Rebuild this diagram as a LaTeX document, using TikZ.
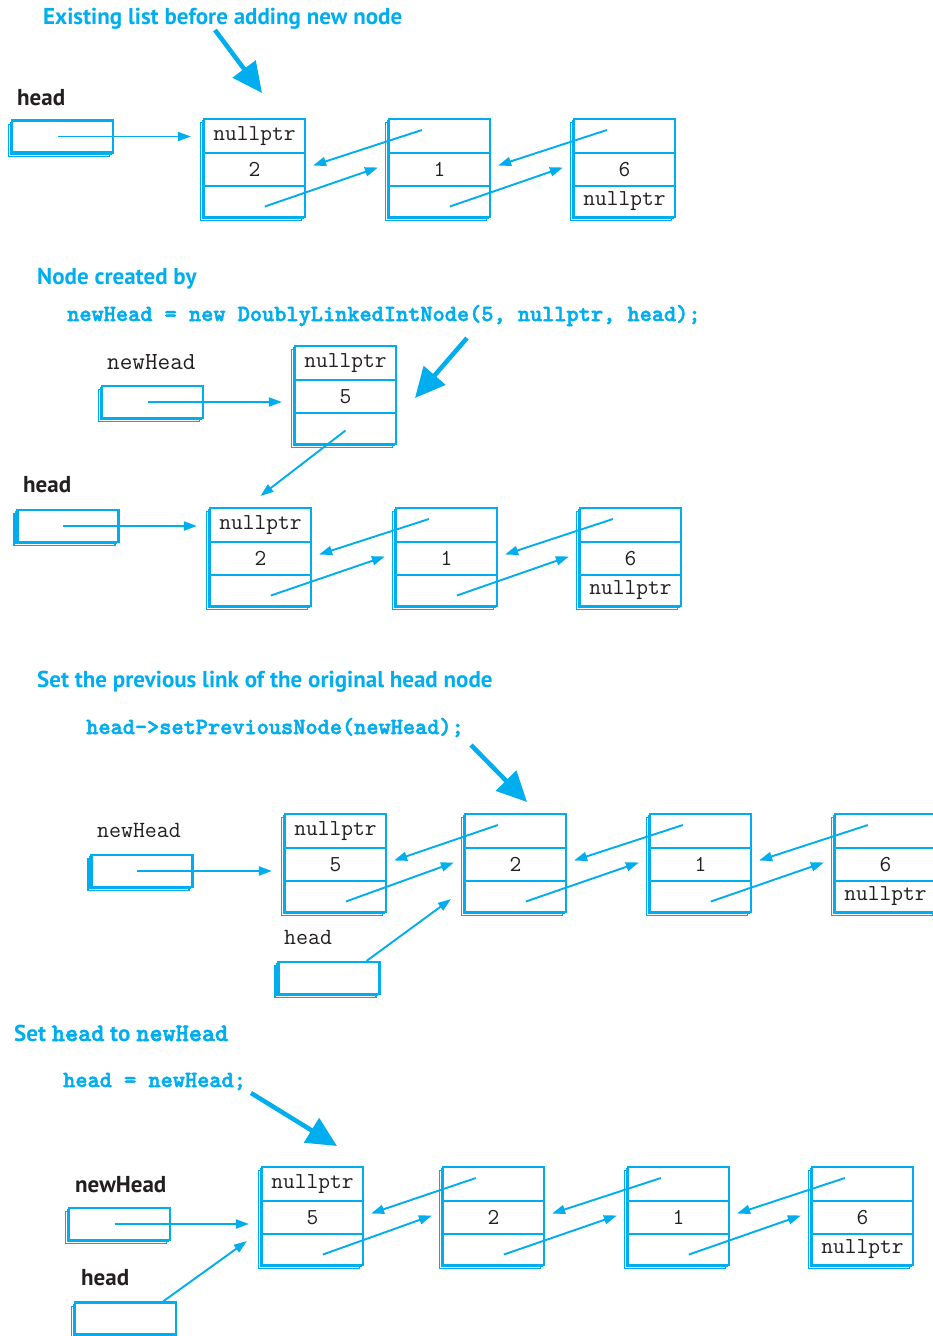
\documentclass[tikz,border=0pt]{standalone}
\usepackage{fontspec}
\usetikzlibrary{arrows.meta,calc,shadows}
\newfontfamily\hdfont{PT Sans}
\newfontfamily\codefont{lmmonolt10-bold.otf}[FakeBold=2.2]
\definecolor{cy}{RGB}{0,174,239}
\definecolor{ink}{RGB}{35,31,32}
\tikzset{
  stk/.style={copy shadow={shadow xshift=-3.6pt, shadow yshift=-3.6pt, draw=cy, fill=white, line width=1.2pt},
              copy shadow={shadow xshift=-1.8pt, shadow yshift=-1.8pt, draw=cy, fill=white, line width=1.2pt}},
  cell/.style={draw=cy, line width=2.2pt, minimum width=101pt, inner sep=0pt, text=ink,
               font=\ttfamily\fontsize{22.8}{22}\selectfont},
  frame/.style={stk, draw=cy, fill=white, line width=2.2pt, minimum width=101pt, minimum height=98pt, inner sep=0pt},
  ptrbox/.style={stk, draw=cy, fill=white, line width=2.2pt, minimum width=101pt, minimum height=32pt, inner sep=0pt},
  ptr/.style={draw=cy, line width=1.9pt, -{Triangle[length=13pt,width=9pt]}},
  bigarrow/.style={draw=cy, fill=cy, line width=4.5pt, -{Triangle[length=30pt,width=28pt]}},
  title/.style={anchor=base west, inner sep=0pt, text=cy, font=\hdfont\bfseries\fontsize{23}{23}\selectfont},
  code/.style={anchor=base west, inner sep=0pt, text=cy, font=\codefont\fontsize{23.2}{23}\selectfont},
  lbl/.style={anchor=base west, inner sep=0pt, text=ink, font=\hdfont\bfseries\fontsize{23}{23}\selectfont},
  mlbl/.style={anchor=base west, inner sep=0pt, text=ink, font=\ttfamily\fontsize{23.2}{23}\selectfont},
}
\newcommand\listnode[6]{%
  \node[frame] (#1) at (#2+50.5,#3+49) {};
  \node[cell, minimum height=34pt] (#1a) at (#2+50.5,#3+17) {#4};
  \node[cell, minimum height=33pt] (#1b) at (#2+50.5,#3+50.5) {#5};
  \node[cell, minimum height=31pt] (#1c) at (#2+50.5,#3+82.5) {#6};
}
\newcommand\dlink[2]{%
  \draw[ptr] ($(#2a.west)+(34,-6)$) -- ($(#1b.east)+(7,-4)$);
  \draw[ptr] ($(#1c.west)+(62,5)$) -- ($(#2b.west)+(-10,-2)$);
}
\newcommand\hptr[2]{%
  \draw[ptr] ($(#1.center)+(-5,0)$) -- ($(#1.center -| #2.west)+(-12,0)$);
}
\begin{document}
\begin{tikzpicture}[x=1pt,y=-1pt]
\useasboundingbox (0,0) rectangle (933,1336);
\clip (0,0) rectangle (933,1336);
\fill[white] (0,0) rectangle (933,1336);

% ---------- Section 1
\node[title] (t1) at (43,24) {Existing list before adding new node};
\coordinate (b1s) at (215,30); \coordinate (b1e) at (262,93);
\draw[bigarrow] (b1s) -- (b1e);
\node[lbl] (l1) at (17,105) {head};
\node[ptrbox] (s1h) at (62.5,136.5) {};
\listnode{s1n1}{204}{119}{nullptr}{2}{}
\listnode{s1n2}{389}{119}{}{1}{}
\listnode{s1n3}{574}{119}{}{6}{nullptr}
\hptr{s1h}{s1n1}
\dlink{s1n1}{s1n2}
\dlink{s1n2}{s1n3}

% ---------- Section 2
\node[title] (t2) at (37,284) {Node created by};
\node[code] (c2) at (67,321) {newHead = new DoublyLinkedIntNode(5, nullptr, head);};
\node[mlbl, font=\ttfamily\fontsize{24.5}{24}\selectfont] (l2a) at (107,369) {newHead};
\node[ptrbox] (s2nh) at (152.5,402) {};
\listnode{s2n0}{295}{346}{nullptr}{5}{}
\coordinate (b2s) at (467,338); \coordinate (b2e) at (415,398);
\draw[bigarrow] (b2s) -- (b2e);
\hptr{s2nh}{s2n0}
\node[lbl] (l2b) at (23,492) {head};
\node[ptrbox] (s2h) at (68,526) {};
\listnode{s2n1}{210}{508}{nullptr}{2}{}
\listnode{s2n2}{396}{508}{}{1}{}
\listnode{s2n3}{580}{508}{}{6}{nullptr}
\draw[ptr] ($(s2n0c.center)+(0,2)$) -- ($(s2n1.north)+(0,-11)$);
\hptr{s2h}{s2n1}
\dlink{s2n1}{s2n2}
\dlink{s2n2}{s2n3}

% ---------- Section 3
\node[title] (t3) at (37,687) {Set the previous link of the original head node};
\node[code] (c3) at (86,734) {head->setPreviousNode(newHead);};
\coordinate (b3s) at (471,745); \coordinate (b3e) at (527,802);
\draw[bigarrow] (b3s) -- (b3e);
\node[mlbl] (l3a) at (97,837) {newHead};
\node[ptrbox] (s3nh) at (142,871) {};
\listnode{s3n0}{285}{814}{nullptr}{5}{}
\listnode{s3n1}{465}{814}{}{2}{}
\listnode{s3n2}{650}{814}{}{1}{}
\listnode{s3n3}{835}{814}{}{6}{nullptr}
\hptr{s3nh}{s3n0}
\dlink{s3n0}{s3n1}
\dlink{s3n1}{s3n2}
\dlink{s3n2}{s3n3}
\node[mlbl] (l3b) at (284,944) {head};
\node[ptrbox] (s3h) at (329,978) {};
\draw[ptr] ($(s3h.north east)+(-14,0)$) -- ($(s3n1.south west)+(-13,-14)$);

% ---------- Section 4
\node[title] (t4) at (14,1041) {Set {\codefont\fontsize{25}{25}\selectfont head} to {\codefont\fontsize{25}{25}\selectfont newHead}};
\node[code] (c4) at (63,1087) {head = newHead;};
\coordinate (b4s) at (251,1093); \coordinate (b4e) at (337,1146);
\draw[bigarrow] (b4s) -- (b4e);
\node[lbl] (l4a) at (75,1192) {newHead};
\node[ptrbox] (s4nh) at (119.5,1224) {};
\listnode{s4n0}{262}{1167}{nullptr}{5}{}
\listnode{s4n1}{443}{1167}{}{2}{}
\listnode{s4n2}{628}{1167}{}{1}{}
\listnode{s4n3}{812}{1167}{}{6}{nullptr}
\hptr{s4nh}{s4n0}
\dlink{s4n0}{s4n1}
\dlink{s4n1}{s4n2}
\dlink{s4n2}{s4n3}
\node[lbl] (l4b) at (81,1285) {head};
\node[ptrbox] (s4h) at (125.5,1318.5) {};
\draw[ptr] ($(s4h.north east)+(-14,0)$) -- ($(s4n0.south west)+(-14,-25)$);
\end{tikzpicture}
\end{document}
